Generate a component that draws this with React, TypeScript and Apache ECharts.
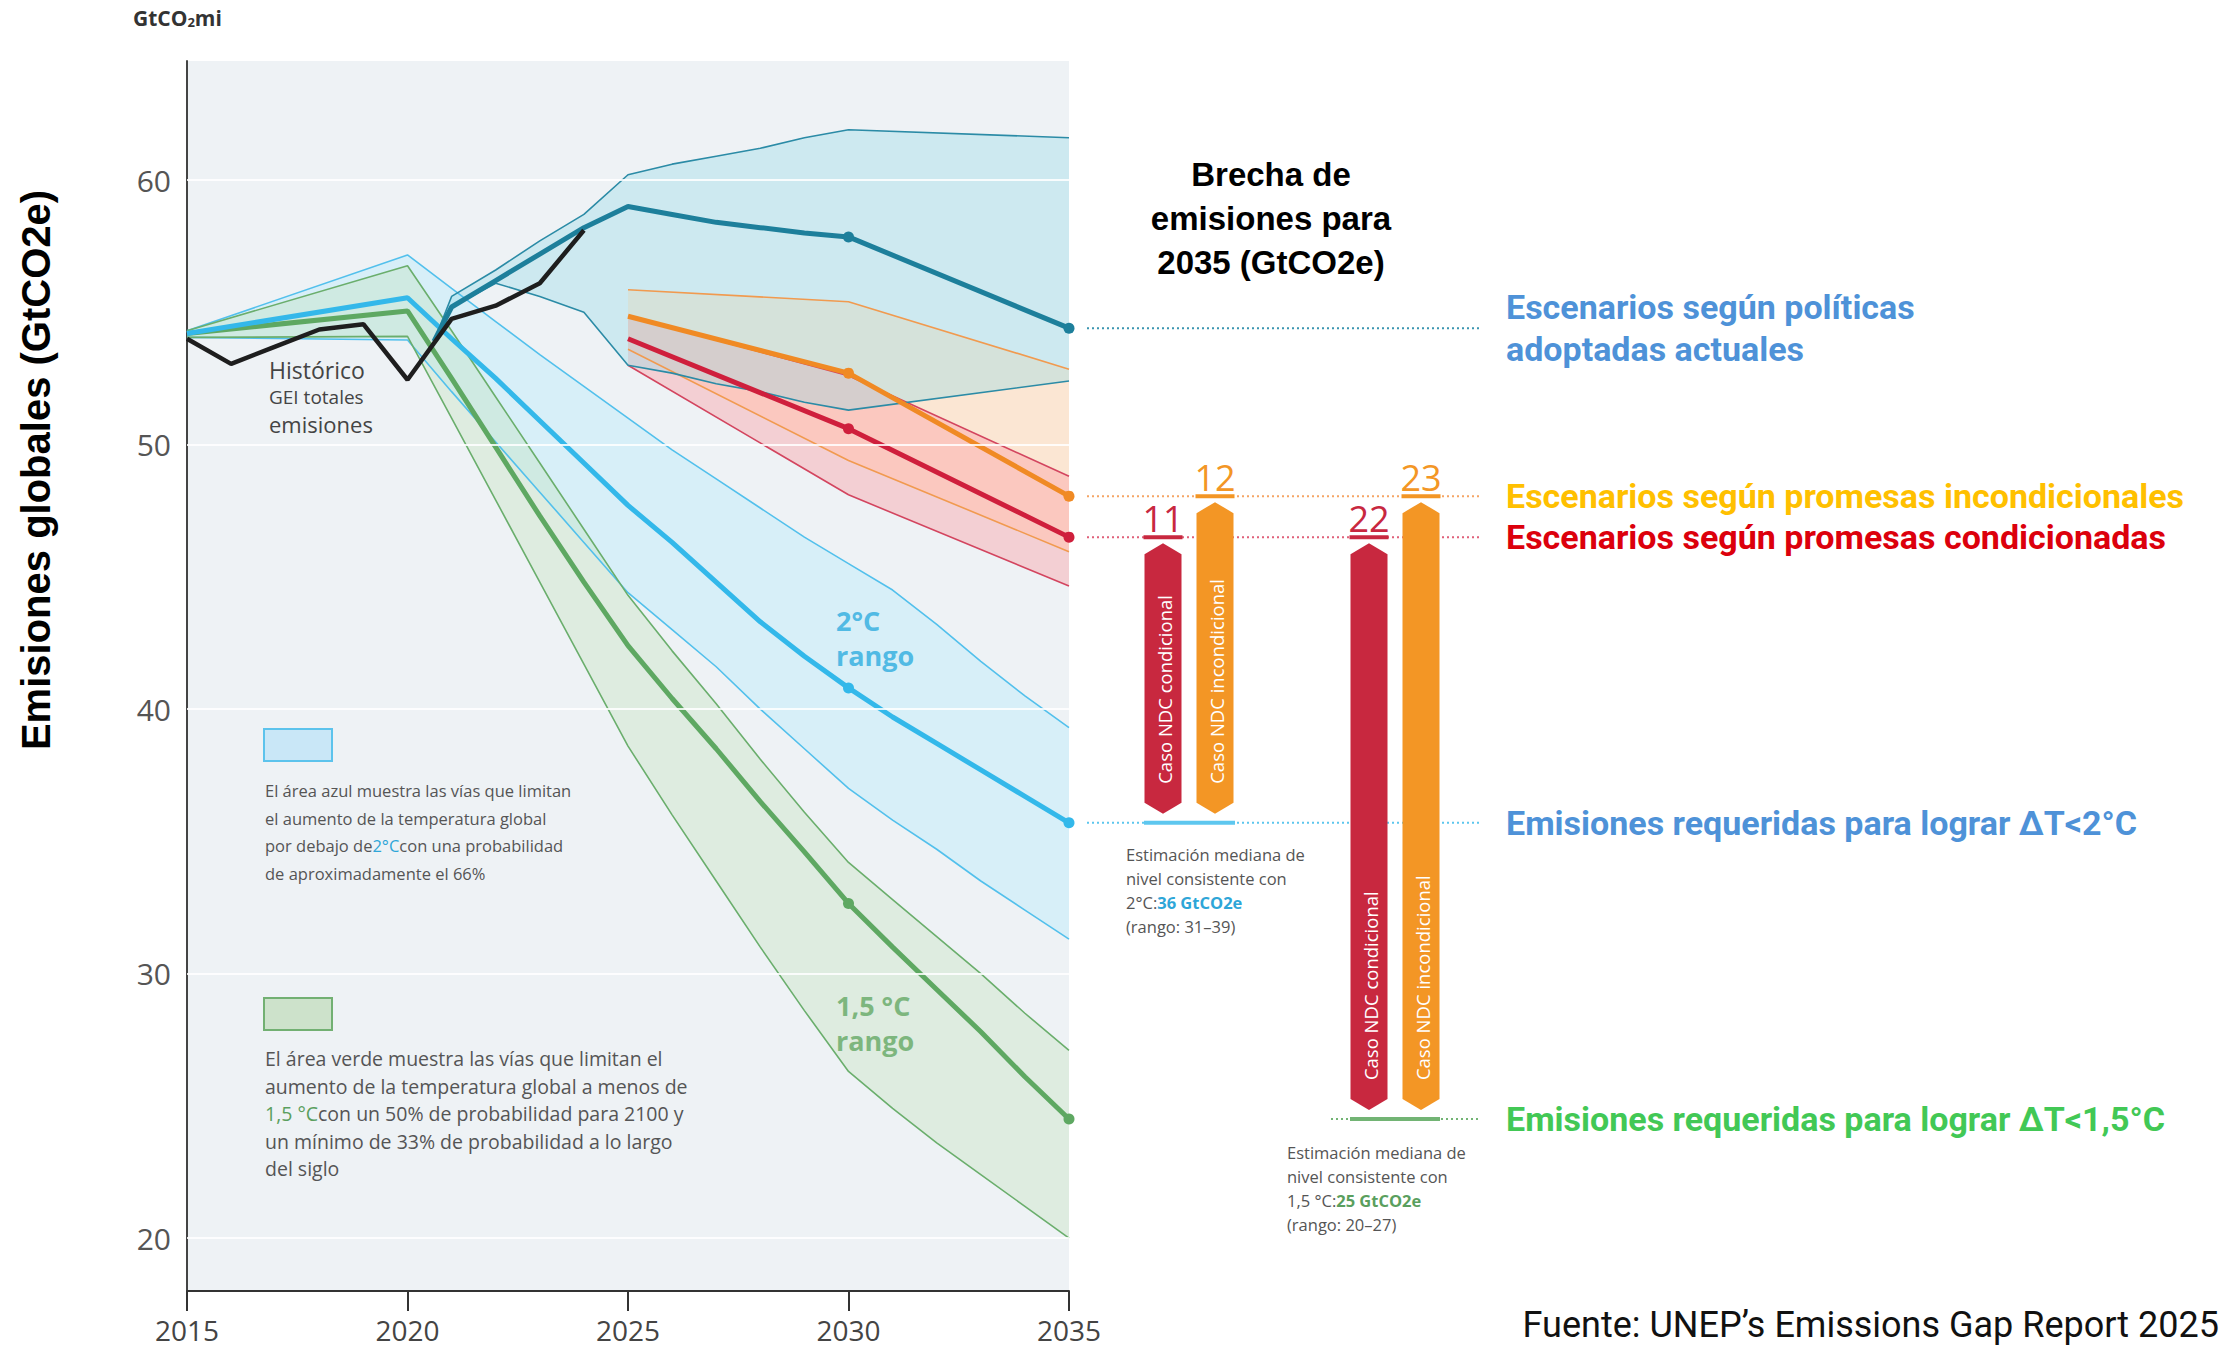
import React, { useEffect, useRef } from 'react';
import * as echarts from 'echarts';

const xTicks = [2015, 2020, 2025, 2030, 2035];
const yTicks = [20, 30, 40, 50, 60];

const histYears = [2015, 2016, 2017, 2018, 2019, 2020, 2021, 2022, 2023, 2024];
const histValues = [54.0, 53.05, 53.7, 54.35, 54.55, 52.45, 54.75, 55.25, 56.1, 58.1];

const policyYears = [2020.6, 2021, 2022, 2023, 2024, 2025, 2026, 2027, 2028, 2029, 2030, 2035];
const policyMedian = [53.9, 55.2, 56.2, 57.2, 58.2, 59.0, 58.7, 58.4, 58.2, 58.0, 57.85, 54.4];
const policyUpper = [53.9, 55.6, 56.6, 57.7, 58.7, 60.2, 60.6, 60.9, 61.2, 61.6, 61.9, 61.6];
const policyLower = [53.9, 55.2, 56.1, 55.6, 55.0, 53.0, 52.7, 52.3, 52.0, 51.6, 51.3, 52.4];

const ndcYears = [2025, 2030, 2035];
const uncondMedian = [54.85, 52.7, 48.05];
const uncondUpper = [55.85, 55.4, 52.85];
const uncondLower = [53.6, 49.4, 45.95];
const condMedian = [54.0, 50.6, 46.5];
const condUpper = [54.85, 52.6, 48.8];
const condLower = [53.0, 48.1, 44.65];

const pathYears = [2015, 2020, 2021, 2022, 2023, 2024, 2025, 2026, 2027, 2028, 2029, 2030, 2031, 2032, 2033, 2034, 2035];
const twoMedian = [54.2, 55.55, 54.0, 52.5, 50.9, 49.3, 47.7, 46.3, 44.8, 43.3, 42.0, 40.8, 39.7, 38.7, 37.7, 36.7, 35.7];
const twoUpper = [54.3, 57.17, 55.9, 54.65, 53.4, 52.2, 51.0, 49.8, 48.7, 47.6, 46.5, 45.5, 44.5, 43.2, 41.8, 40.5, 39.3];
const twoLower = [54.05, 53.95, 52.0, 50.1, 48.2, 46.3, 44.4, 43.0, 41.6, 40.0, 38.5, 37.0, 35.8, 34.7, 33.5, 32.4, 31.3];
const oneFiveMedian = [54.2, 55.05, 52.5, 49.9, 47.3, 44.8, 42.4, 40.4, 38.5, 36.5, 34.6, 32.65, 31.0, 29.4, 27.8, 26.1, 24.5];
const oneFiveUpper = [54.3, 56.76, 54.3, 51.8, 49.3, 46.8, 44.3, 42.2, 40.2, 38.1, 36.1, 34.2, 32.8, 31.4, 30.0, 28.5, 27.1];
const oneFiveLower = [54.05, 54.09, 51.0, 47.9, 44.8, 41.7, 38.6, 36.0, 33.5, 31.0, 28.6, 26.3, 24.9, 23.6, 22.4, 21.2, 20.0];

const markerYears = [2030, 2035];

const gapValues = [11, 12, 22, 23];
const gapNames = ['Caso NDC condicional', 'Caso NDC incondicional', 'Caso NDC condicional', 'Caso NDC incondicional'];
const gapFrom = ['cond', 'uncond', 'cond', 'uncond'];
const gapTo = ['two', 'two', 'oneFive', 'oneFive'];

const scenarioLabels = [
  'Escenarios según políticas\nadoptadas actuales',
  'Escenarios según promesas incondicionales',
  'Escenarios según promesas condicionadas',
  'Emisiones requeridas para lograr ΔT<2°C',
  'Emisiones requeridas para lograr ΔT<1,5°C',
];

const FONT = "'Open Sans', 'Noto Sans', sans-serif";
const ARIAL = "'Liberation Sans', Arial, sans-serif";

const zip = (xs: number[], ys: number[]) => xs.map((x, i) => [x, ys[i]]);
const last = (a: number[]) => a[a.length - 1];

const C = {
  teal: '#1d7f9b', tealEdge: '#2b8ba6', tealFill: 'rgba(144,219,231,0.35)',
  orange: '#f08a24', orangeEdge: '#f19a4f', orangeFill: 'rgba(255,226,199,0.75)',
  red: '#cf1f3c', redEdge: '#d3455f', redFill: 'rgba(250,160,165,0.42)',
  blue: '#33b8ea', blueEdge: '#52c0ec', blueFill: 'rgba(161,232,255,0.3)',
  green: '#5ea862', greenEdge: '#6aae6c', greenFill: 'rgba(192,225,185,0.35)',
  bar: { cond: '#c8283f', uncond: '#f39625' } as Record<string, string>,
};

function bandSeries(xsU: number[], up: number[], xsL: number[], lo: number[], fill: string, z: number) {
  return {
    type: 'custom',
    coordinateSystem: 'cartesian2d',
    xAxisIndex: 0,
    yAxisIndex: 0,
    silent: true,
    z,
    data: [[xsU[0], up[0]]],
    renderItem: (_p: any, api: any) => {
      const pts: number[][] = [];
      xsU.forEach((x, i) => pts.push(api.coord([x, up[i]])));
      for (let i = xsL.length - 1; i >= 0; i--) pts.push(api.coord([xsL[i], lo[i]]));
      return { type: 'polygon', shape: { points: pts }, style: { fill } };
    },
  };
}

function edgeSeries(xs: number[], ys: number[], color: string) {
  return {
    type: 'line', xAxisIndex: 0, yAxisIndex: 0, data: zip(xs, ys), symbol: 'none', silent: true, z: 3,
    lineStyle: { color, width: 1.6 },
  };
}

function medianSeries(xs: number[], ys: number[], color: string) {
  return {
    type: 'line', xAxisIndex: 0, yAxisIndex: 0, data: zip(xs, ys), silent: true, z: 4,
    symbol: 'circle', showSymbol: true, showAllSymbol: true,
    symbolSize: (v: number[]) => (markerYears.includes(v[0]) ? 11 : 0),
    itemStyle: { color },
    lineStyle: { color, width: 5 },
  };
}

export default function App() {
  const ref = useRef<HTMLDivElement>(null);
  useEffect(() => {
    if (!ref.current) return;
    const chart = echarts.init(ref.current, undefined, { renderer: 'svg' });
    const level: Record<string, number> = {
      policy: last(policyMedian),
      uncond: last(uncondMedian),
      cond: last(condMedian),
      two: last(twoMedian),
      oneFive: last(oneFiveMedian),
    };
    const gapX = [94, 146, 300, 352];

    const dotted = (x0: number, lvl: number, color: string, label: string, labelColor: string) => ({
      type: 'line', xAxisIndex: 1, yAxisIndex: 1, silent: true, z: 3, symbol: 'none',
      data: [[x0, lvl], [411, lvl]],
      lineStyle: { color, width: 2, type: [2, 3] },
      endLabel: {
        show: true, formatter: label, color: labelColor, fontSize: 34, fontWeight: 'bold',
        fontFamily: 'Roboto, sans-serif', distance: 26, lineHeight: 42, align: 'left',
      },
    });

    const option: any = {
      animation: false,
      backgroundColor: '#ffffff',
      grid: [
        { left: 187, top: 61, width: 882, height: 1230, show: true, backgroundColor: '#eef2f5', borderWidth: 0 },
        { left: 1069, top: 61, width: 420, height: 1230, show: false },
      ],
      xAxis: [
        {
          type: 'value', gridIndex: 0, min: 2015, max: 2035, interval: 5,
          axisLine: { show: true, lineStyle: { color: '#333', width: 2 } },
          axisTick: { show: true, inside: false, length: 20, lineStyle: { color: '#333', width: 2 } },
          axisLabel: { fontSize: 28, color: '#444', fontFamily: FONT, margin: 25, formatter: (v: number) => (xTicks.includes(v) ? String(v) : '') },
          splitLine: { show: false },
        },
        { type: 'value', gridIndex: 1, min: 0, max: 420, show: false },
      ],
      yAxis: [
        {
          type: 'value', gridIndex: 0, min: 18, max: 64.5, interval: 1,
          axisLine: { show: true, lineStyle: { color: '#444', width: 2 } },
          axisTick: { show: false },
          splitLine: { show: false },
          axisLabel: {
            fontSize: 30, color: '#555', fontFamily: FONT, margin: 16,
            formatter: (v: number) => (yTicks.includes(v) ? String(v) : ''),
          },
        },
        { type: 'value', gridIndex: 1, min: 18, max: 64.5, show: false },
      ],
      series: [
        bandSeries(pathYears, twoUpper, pathYears, twoLower, C.blueFill, 1),
        bandSeries(pathYears, oneFiveUpper, pathYears, oneFiveLower, C.greenFill, 1),
        bandSeries(ndcYears, uncondUpper, ndcYears, uncondLower, C.orangeFill, 1),
        bandSeries(ndcYears, condUpper, ndcYears, condLower, C.redFill, 1),
        bandSeries(policyYears, policyUpper, policyYears, policyLower, C.tealFill, 1),
        {
          type: 'line', xAxisIndex: 0, yAxisIndex: 0, data: [], silent: true, z: 2,
          markLine: {
            silent: true, symbol: ['none', 'none'], label: { show: false }, animation: false,
            lineStyle: { color: 'rgba(255,255,255,0.85)', width: 2, type: 'solid' },
            data: yTicks.map((v) => ({ yAxis: v })),
          },
        },
        edgeSeries(pathYears, twoUpper, C.blueEdge),
        edgeSeries(pathYears, twoLower, C.blueEdge),
        edgeSeries(pathYears, oneFiveUpper, C.greenEdge),
        edgeSeries(pathYears, oneFiveLower, C.greenEdge),
        edgeSeries(ndcYears, uncondUpper, C.orangeEdge),
        edgeSeries(ndcYears, uncondLower, C.orangeEdge),
        edgeSeries(ndcYears, condUpper, C.redEdge),
        edgeSeries(ndcYears, condLower, C.redEdge),
        edgeSeries(policyYears, policyUpper, C.tealEdge),
        edgeSeries(policyYears, policyLower, C.tealEdge),
        medianSeries(pathYears, oneFiveMedian, C.green),
        medianSeries(pathYears, twoMedian, C.blue),
        medianSeries(ndcYears, uncondMedian, C.orange),
        medianSeries(ndcYears, condMedian, C.red),
        medianSeries(policyYears, policyMedian, C.teal),
        {
          type: 'line', xAxisIndex: 0, yAxisIndex: 0, data: zip(histYears, histValues), symbol: 'none', silent: true, z: 5,
          lineStyle: { color: '#1e1e1e', width: 4.5 },
        },
        dotted(18, level.policy, '#3b95b0', scenarioLabels[0], '#4e92d8'),
        dotted(18, level.uncond, '#f5a565', scenarioLabels[1], '#ffc000'),
        dotted(18, level.cond, '#e0607a', scenarioLabels[2], '#dc000c'),
        dotted(18, level.two, '#5cc6ee', scenarioLabels[3], '#4e92d8'),
        dotted(262, level.oneFive, '#72b474', scenarioLabels[4], '#42c855'),
        {
          type: 'line', xAxisIndex: 1, yAxisIndex: 1, silent: true, z: 4, symbol: 'none',
          data: [[75, level.two], [166, level.two]], lineStyle: { color: '#5ec7ef', width: 4 },
        },
        {
          type: 'line', xAxisIndex: 1, yAxisIndex: 1, silent: true, z: 4, symbol: 'none',
          data: [[281, level.oneFive], [371, level.oneFive]], lineStyle: { color: '#72b474', width: 4 },
        },
        {
          type: 'custom', xAxisIndex: 1, yAxisIndex: 1, coordinateSystem: 'cartesian2d', silent: true, z: 6,
          data: gapX.map((x, i) => [x, level[gapFrom[i]], level[gapTo[i]], i]),
          renderItem: (_p: any, api: any) => {
            const i = api.value(3);
            const pT = api.coord([api.value(0), api.value(1)]);
            const pB = api.coord([api.value(0), api.value(2)]);
            const cx = pT[0];
            const w = 37;
            const hw = w / 2;
            const h = 11;
            const yT = pT[1] + 6;
            const yB = pB[1] - 9;
            const color = C.bar[gapFrom[i]];
            return {
              type: 'group',
              children: [
                {
                  type: 'polygon',
                  shape: { points: [[cx - hw, yT + h], [cx, yT], [cx + hw, yT + h], [cx + hw, yB - h], [cx, yB], [cx - hw, yB - h]] },
                  style: { fill: color },
                },
                { type: 'rect', shape: { x: cx - hw - 1, y: pT[1] - 2, width: w + 2, height: 4 }, style: { fill: color } },
                {
                  type: 'text', x: cx, y: pT[1] - 19,
                  style: { text: String(gapValues[i]), fill: color, fontSize: 36, fontFamily: FONT, align: 'center', verticalAlign: 'middle' },
                },
                {
                  type: 'text', x: cx + 1, y: yB - 30, rotation: Math.PI / 2,
                  style: { text: gapNames[i], fill: '#ffffff', fontSize: 18.5, fontFamily: FONT, align: 'left', verticalAlign: 'middle' },
                },
              ],
            };
          },
        },
      ],
      graphic: [
        {
          type: 'text', x: 36, y: 470, rotation: Math.PI / 2,
          style: { text: 'Emisiones globales (GtCO2e)', fill: '#000', fontSize: 40, fontWeight: 'bold', fontFamily: ARIAL, align: 'center', verticalAlign: 'middle' },
        },
        {
          type: 'text', x: 133, y: 18,
          style: {
            text: 'GtCO{s|2}mi', fill: '#333', fontSize: 21, fontWeight: 'bold', fontFamily: FONT, verticalAlign: 'middle',
            rich: { s: { fontSize: 13, fontWeight: 'bold', fill: '#333', fontFamily: FONT, verticalAlign: 'bottom' } },
          },
        },
        { type: 'text', x: 269, y: 370, style: { text: 'Histórico', fill: '#444', fontSize: 23, fontFamily: FONT, verticalAlign: 'middle' } },
        { type: 'text', x: 269, y: 397, style: { text: 'GEI totales', fill: '#444', fontSize: 19, fontFamily: FONT, verticalAlign: 'middle' } },
        { type: 'text', x: 269, y: 424, style: { text: 'emisiones', fill: '#444', fontSize: 22, fontFamily: FONT, verticalAlign: 'middle' } },
        { type: 'text', x: 836, y: 620, style: { text: '2°C', fill: '#2ea6d8', fontSize: 27, fontWeight: 'bold', fontFamily: FONT, verticalAlign: 'middle' } },
        { type: 'text', x: 836, y: 655, style: { text: 'rango', fill: '#2ea6d8', fontSize: 27, fontWeight: 'bold', fontFamily: FONT, verticalAlign: 'middle' } },
        { type: 'text', x: 836, y: 1005, style: { text: '1,5 °C', fill: '#5a9f5e', fontSize: 27, fontWeight: 'bold', fontFamily: FONT, verticalAlign: 'middle' } },
        { type: 'text', x: 836, y: 1040, style: { text: 'rango', fill: '#5a9f5e', fontSize: 27, fontWeight: 'bold', fontFamily: FONT, verticalAlign: 'middle' } },
        { type: 'rect', shape: { x: 264, y: 729, width: 68, height: 32 }, style: { fill: '#c9e7f7', stroke: '#5cc3ec', lineWidth: 2 } },
        { type: 'rect', shape: { x: 264, y: 998, width: 68, height: 32 }, style: { fill: '#cde2cb', stroke: '#72b072', lineWidth: 2 } },
        {
          type: 'text', x: 265, y: 777,
          style: {
            text: 'El área azul muestra las vías que limitan\nel aumento de la temperatura global\npor debajo de{b|2°C}con una probabilidad\nde aproximadamente el 66%',
            fill: '#555', fontSize: 16.5, fontFamily: FONT, lineHeight: 27.5, verticalAlign: 'top',
            rich: { b: { fill: '#2ea6d8', fontSize: 16.5, fontFamily: FONT, lineHeight: 27.5 } },
          },
        },
        {
          type: 'text', x: 265, y: 1045,
          style: {
            text: 'El área verde muestra las vías que limitan el\naumento de la temperatura global a menos de\n{g|1,5 °C}con un 50% de probabilidad para 2100 y\nun mínimo de 33% de probabilidad a lo largo\ndel siglo',
            fill: '#555', fontSize: 19.5, fontFamily: FONT, lineHeight: 27.5, verticalAlign: 'top',
            rich: { g: { fill: '#5a9f5e', fontSize: 19.5, fontFamily: FONT, lineHeight: 27.5 } },
          },
        },
        {
          type: 'text', x: 1271, y: 152,
          style: { text: 'Brecha de\nemisiones para\n2035 (GtCO2e)', fill: '#000', fontSize: 33, fontWeight: 'bold', fontFamily: ARIAL, lineHeight: 44, align: 'center', verticalAlign: 'top' },
        },
        {
          type: 'text', x: 1126, y: 842,
          style: {
            text: `Estimación mediana de\nnivel consistente con\n2°C:{b|${Math.round(last(twoMedian))} GtCO2e}\n(rango: ${Math.round(last(twoLower))}–${Math.round(last(twoUpper))})`,
            fill: '#555', fontSize: 16.5, fontFamily: FONT, lineHeight: 24, verticalAlign: 'top',
            rich: { b: { fill: '#2ea6d8', fontWeight: 'bold', fontSize: 16.5, fontFamily: FONT, lineHeight: 24 } },
          },
        },
        {
          type: 'text', x: 1287, y: 1140,
          style: {
            text: `Estimación mediana de\nnivel consistente con\n1,5 °C:{g|${Math.round(last(oneFiveMedian))} GtCO2e}\n(rango: ${Math.round(last(oneFiveLower))}–${Math.round(last(oneFiveUpper))})`,
            fill: '#555', fontSize: 16.5, fontFamily: FONT, lineHeight: 24, verticalAlign: 'top',
            rich: { g: { fill: '#5a9f5e', fontWeight: 'bold', fontSize: 16.5, fontFamily: FONT, lineHeight: 24 } },
          },
        },
        {
          type: 'text', x: 2219, y: 1325,
          style: { text: 'Fuente: UNEP’s Emissions Gap Report 2025', fill: '#111', fontSize: 36, fontFamily: 'Roboto, sans-serif', align: 'right', verticalAlign: 'middle' },
        },
      ],
    };
    chart.setOption(option);
    return () => chart.dispose();
  }, []);
  return <div ref={ref} style={{ position: 'fixed', left: 0, top: 0, width: 2234, height: 1351, background: '#fff' }} />;
}
